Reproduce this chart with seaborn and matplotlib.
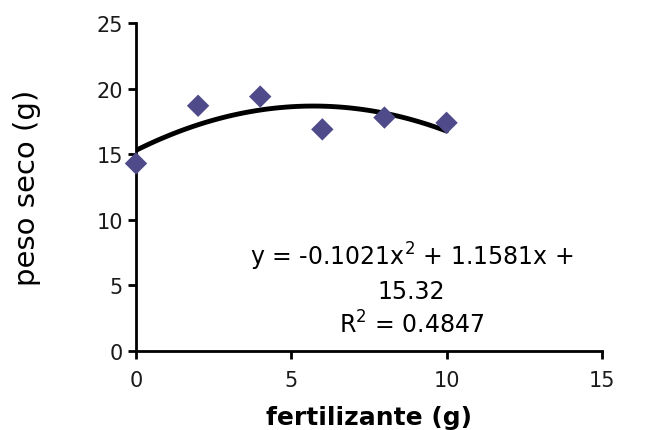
import pandas as pd
import seaborn as sns
import matplotlib.pyplot as plt

# datos
fertilizante = [0, 2, 4, 6, 8, 10]
peso_seco = [14.3, 18.7, 19.4, 16.9, 17.8, 17.4]
eq_text = "y = -0.1021x$^2$ + 1.1581x +\n15.32\nR$^2$ = 0.4847"

df = pd.DataFrame({"fertilizante": fertilizante, "peso_seco": peso_seco})

sns.set_style("ticks")
plt.rcParams['font.family'] = ['DejaVu Sans']
plt.rcParams['text.color'] = 'black'
plt.rcParams['axes.labelcolor'] = 'black'

fig = plt.figure(figsize=(6.65, 4.31), dpi=100)
ax = fig.add_axes([0.2045, 0.1833, 0.7005, 0.7607])

# línea de tendencia polinómica (orden 2)
sns.regplot(data=df, x="fertilizante", y="peso_seco", order=2, ci=None,
            scatter=False, truncate=True, ax=ax,
            line_kws={"color": "black", "lw": 3.5, "zorder": 2})
sns.scatterplot(data=df, x="fertilizante", y="peso_seco", marker="D", s=130,
                color="#4F4A8A", edgecolor="none", ax=ax, zorder=3,
                clip_on=False)

ax.set_xlim(0, 15)
ax.set_ylim(0, 25)
ax.set_xticks([0, 5, 10, 15])
ax.set_yticks([0, 5, 10, 15, 20, 25])
ax.tick_params(axis="both", labelsize=15, labelcolor="#1a1a1a", width=2,
               length=6, direction="out", color="black")
ax.tick_params(axis="x", pad=8)
for s in ["left", "bottom"]:
    ax.spines[s].set_linewidth(2)
    ax.spines[s].set_color("black")
sns.despine(ax=ax)

ax.set_xlabel("fertilizante (g)", fontsize=18, fontweight="bold", labelpad=10.5)
ax.set_ylabel("peso seco (g)", fontsize=21, labelpad=40)

ax.text(8.87, 4.75, eq_text, ha="center", va="center", fontsize=17,
        linespacing=1.35)

fig.savefig("out.png", dpi=100)
